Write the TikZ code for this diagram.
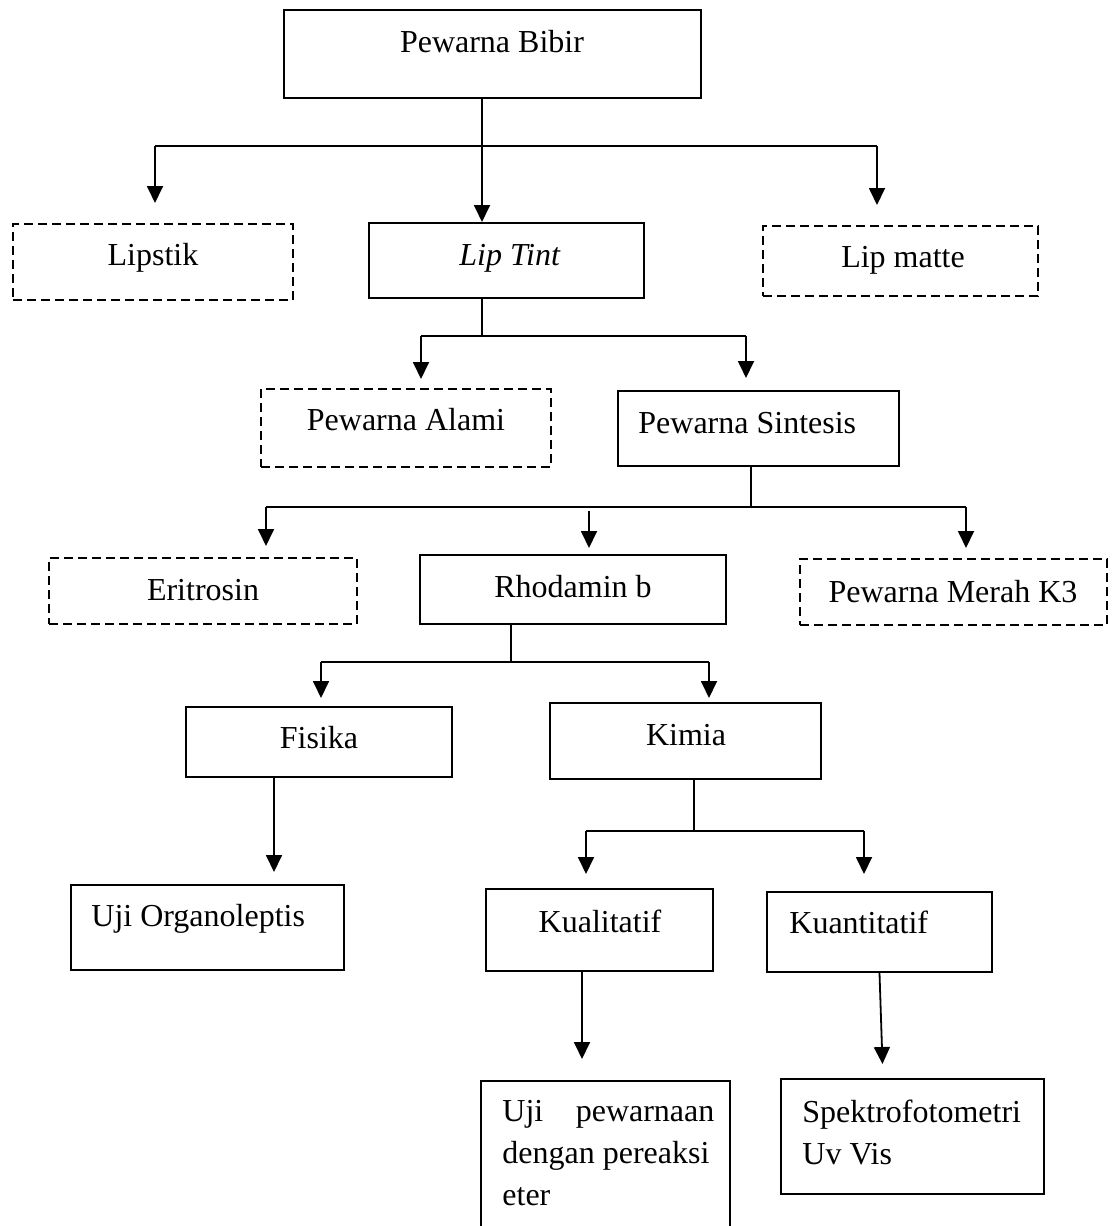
\documentclass[tikz,border=0pt]{standalone}
\usepackage{fontspec}
\setmainfont{Liberation Serif}
\usetikzlibrary{arrows.meta}
\begin{document}
\begin{tikzpicture}[x=0.5pt, y=-0.5pt,
    box/.style={draw, line width=1pt, inner sep=0pt},
    dashbox/.style={box, dash pattern=on 4.5pt off 2.5pt},
    txt/.style={font=\fontsize{16}{21}\selectfont, inner sep=0pt},
    link/.style={line width=0.9pt},
    arr/.style={link, -{Triangle[length=8.5pt, width=8pt]}}]
  \useasboundingbox (0,0) rectangle (1114,1226);
  % boxes
  \node[box, minimum width=208.5pt, minimum height=44pt] (bibir) at (492.5,54) {};
  \node[dashbox, minimum width=140pt, minimum height=38pt] (lipstik) at (153,262) {};
  \node[box, minimum width=137.5pt, minimum height=37.5pt] (liptint) at (506.5,260.5) {};
  \node[dashbox, minimum width=137.5pt, minimum height=35pt] (lipmatte) at (900.5,261) {};
  \node[dashbox, minimum width=145pt, minimum height=39pt] (alami) at (406,428) {};
  \node[box, minimum width=140.5pt, minimum height=37.5pt] (sintesis) at (758.5,428.5) {};
  \node[dashbox, minimum width=154pt, minimum height=33pt] (eritrosin) at (203,591) {};
  \node[box, minimum width=153pt, minimum height=34.5pt] (rhodamin) at (573,589.5) {};
  \node[dashbox, minimum width=153.5pt, minimum height=33pt] (merah) at (953.5,592) {};
  \node[box, minimum width=133pt, minimum height=35pt] (fisika) at (319,742) {};
  \node[box, minimum width=135.5pt, minimum height=38pt] (kimia) at (685.5,741) {};
  \node[box, minimum width=136.5pt, minimum height=42.5pt] (organoleptis) at (207.5,927.5) {};
  \node[box, minimum width=113.5pt, minimum height=41pt] (kualitatif) at (599.5,930) {};
  \node[box, minimum width=112.5pt, minimum height=40pt] (kuantitatif) at (879.5,932) {};
  \node[box, minimum width=124.5pt, minimum height=84.5pt] (ujiwarna) at (605.5,1165.5) {};
  \node[box, minimum width=131.5pt, minimum height=57.5pt] (spektro) at (912.5,1136.5) {};
  % labels
  \node[txt, anchor=base] (bibir-t) at (492,52) {Pewarna Bibir};
  \node[txt, anchor=base] (lipstik-t) at (153,265) {Lipstik};
  \node[txt, anchor=base] (liptint-t) at (510,265) {\textit{Lip Tint}};
  \node[txt, anchor=base] (lipmatte-t) at (903,267) {Lip matte};
  \node[txt, anchor=base] (alami-t) at (406,430) {Pewarna Alami};
  \node[txt, anchor=base west] (sintesis-t) at (638,433) {Pewarna Sintesis};
  \node[txt, anchor=base] (eritrosin-t) at (203,600) {Eritrosin};
  \node[txt, anchor=base] (rhodamin-t) at (573,597) {Rhodamin b};
  \node[txt, anchor=base] (merah-t) at (953,602) {Pewarna Merah K3};
  \node[txt, anchor=base] (fisika-t) at (319,748) {Fisika};
  \node[txt, anchor=base] (kimia-t) at (686,745) {Kimia};
  \node[txt, anchor=base west] (organoleptis-t) at (91,926) {Uji Organoleptis};
  \node[txt, anchor=base] (kualitatif-t) at (600,932) {Kualitatif};
  \node[txt, anchor=base west] (kuantitatif-t) at (789,933) {Kuantitatif};
  \node[txt, anchor=north west, text width=106pt, align=left] (ujiwarna-t) at (502,1100)
    {\spaceskip=0pt Uji\hfill pewarnaan\par dengan pereaksi\par eter};
  \node[txt, anchor=north west, text width=120pt, align=left] (spektro-t) at (802,1100)
    {\spaceskip=0pt Spektrofotometri\par Uv Vis};
  % Pewarna Bibir
  \coordinate (j1) at (482,146);
  \draw[arr] (bibir.south -| j1) -- (liptint.north -| j1);
  \draw[link] (155,146) coordinate (j1l) -- (877,146) coordinate (j1r);
  \draw[arr] (j1l) -- ++(0,57);
  \draw[arr] (j1r) -- ++(0,59);
  % Lip Tint
  \coordinate (j2) at (482,336);
  \draw[link] (liptint.south -| j2) -- (j2);
  \draw[link] (421,336) coordinate (j2l) -- (746,336) coordinate (j2r);
  \draw[arr] (j2l) -- ++(0,43);
  \draw[arr] (j2r) -- ++(0,42);
  % Pewarna Sintesis
  \coordinate (j3) at (751,507);
  \draw[link] (sintesis.south -| j3) -- (j3);
  \draw[link] (266,507) coordinate (j3l) -- (966,507) coordinate (j3r);
  \draw[arr] (j3l) -- ++(0,39);
  \draw[arr] (j3r) -- ++(0,41);
  \draw[arr] (589,511) coordinate (j3m) -- ++(0,37);
  % Rhodamin b
  \coordinate (j4) at (511,662);
  \draw[link] (rhodamin.south -| j4) -- (j4);
  \draw[link] (321,662) coordinate (j4l) -- (709,662) coordinate (j4r);
  \draw[arr] (j4l) -- ++(0,36);
  \draw[arr] (j4r) -- ++(0,36);
  % Fisika
  \coordinate (j6) at (274,872);
  \draw[arr] (fisika.south -| j6) -- (j6);
  % Kimia
  \coordinate (j5) at (694,831);
  \draw[link] (kimia.south -| j5) -- (j5);
  \draw[link] (586,831) coordinate (j5l) -- (864,831) coordinate (j5r);
  \draw[arr] (j5l) -- ++(0,43);
  \draw[arr] (j5r) -- ++(0,43);
  % Kualitatif / Kuantitatif
  \coordinate (j7) at (582,1059);
  \draw[arr] (kualitatif.south -| j7) -- (j7);
  \draw[arr] (kuantitatif.south) -- ++(3,91);
\end{tikzpicture}
\end{document}
